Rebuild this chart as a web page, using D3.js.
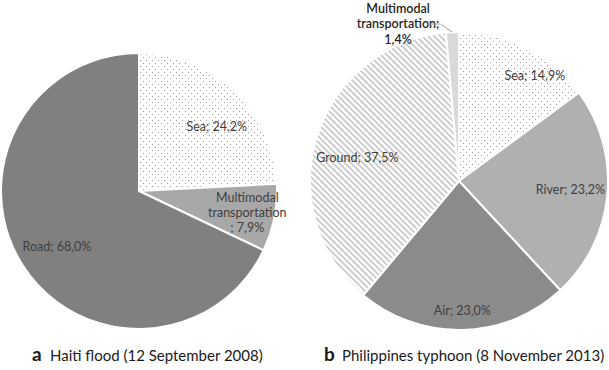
<!DOCTYPE html>
<html lang="en">
<head>
  <meta charset="UTF-8">
  <title>transport modes pies</title>
  <style>
    * {
      padding: 0;
      margin: 0;
    }
    body {
      background: #fff;
    }
    text {
      font-family: Lato, "Liberation Sans", sans-serif;
    }
  </style>
</head>
<body>
  <script src="https://d3js.org/d3.v7.min.js"></script>
  <script>
    const width = 609;
    const height = 370;

    // panel a - Haiti
    const haitiModes = ['Sea', 'Multimodal transportation', 'Road'];
    const haitiShares = [24.2, 7.9, 68.0];

    // panel b - Philippines
    const philModes = ['Sea', 'River', 'Air', 'Ground', 'Multimodal transportation'];
    const philShares = [14.9, 23.2, 23.0, 37.5, 1.4];

    const panelLetters = ['a', 'b'];
    const panelTitles = ['Haiti flood (12 September 2008)', 'Philippines typhoon (8 November 2013)'];

    const svg = d3.select('body')
      .append('svg')
      .attr('width', width)
      .attr('height', height);

    const defs = svg.append('defs');

    const dots = defs.append('pattern')
      .attr('id', 'dots')
      .attr('patternUnits', 'userSpaceOnUse')
      .attr('width', 6)
      .attr('height', 6);
    dots.append('rect').attr('width', 6).attr('height', 6).attr('fill', '#fff');
    dots.append('rect').attr('x', 1).attr('y', 1).attr('width', 1).attr('height', 1).attr('fill', '#9a9a9a');
    dots.append('rect').attr('x', 4).attr('y', 4).attr('width', 1).attr('height', 1).attr('fill', '#9a9a9a');

    const stripes = defs.append('pattern')
      .attr('id', 'stripes')
      .attr('patternUnits', 'userSpaceOnUse')
      .attr('width', 6)
      .attr('height', 6);
    stripes.append('rect').attr('width', 6).attr('height', 6).attr('fill', '#fff');
    stripes.append('path')
      .attr('d', 'M0,0L6,6M-3,3L3,9M3,-3L9,3')
      .attr('stroke', '#cacaca')
      .attr('stroke-width', 1.7);

    const fills = {
      'Sea': 'url(#dots)',
      'Road': '#808080',
      'River': '#b0b0b0',
      'Air': '#8b8b8b',
      'Ground': 'url(#stripes)',
      'Multimodal transportation': '#a8a8a8'
    };

    const fmt = v => d3.format('.1f')(v).replace('.', ',');

    // label placement: radius fraction + angle shift (deg)
    const haitiPlace = { 'Sea': [0.73, 7], 'Multimodal transportation': [0.8, 0], 'Road': [0.72, -2] };
    const philPlace = { 'Sea': [0.87, 9], 'River': [0.75, -1], 'Air': [0.87, 0], 'Ground': [0.70, -4.5], 'Multimodal transportation': [1.13, -18.7] };

    const haitiLines = (m, v) => m === 'Multimodal transportation'
      ? ['Multimodal', 'transportation', '; ' + fmt(v) + '%']
      : [m + '; ' + fmt(v) + '%'];
    const philLines = (m, v) => m === 'Multimodal transportation'
      ? ['Multimodal', 'transportation;', fmt(v) + '%']
      : [m + '; ' + fmt(v) + '%'];

    const drawPie = (cx, cy, r, modes, shares, place, lines, mmFill, leader) => {
      const rows = modes.map((m, i) => ({ m, v: shares[i] }));
      const pie = d3.pie().sort(null).value(d => d.v);
      const arc = d3.arc().innerRadius(0).outerRadius(r);
      const g = svg.append('g').attr('transform', `translate(${cx},${cy})`);

      const arcs = pie(rows);
      g.selectAll('path.slice')
        .data(arcs)
        .join('path')
        .attr('class', 'slice')
        .attr('d', arc)
        .attr('fill', d => d.data.m === 'Multimodal transportation' ? mmFill : fills[d.data.m])
        .attr('stroke', '#fff')
        .attr('stroke-width', 2)
        .attr('stroke-linejoin', 'round');

      arcs.forEach(d => {
        const p = place[d.data.m];
        const a = (d.startAngle + d.endAngle) / 2 + p[1] * Math.PI / 180;
        const x = Math.sin(a) * r * p[0];
        const y = -Math.cos(a) * r * p[0];
        const ls = lines(d.data.m, d.data.v);
        const outside = p[0] > 1;
        const t = g.append('text')
          .attr('text-anchor', 'middle')
          .attr('font-size', 12.5)
          .attr('font-weight', outside ? 600 : 400)
          .attr('fill', outside ? '#262626' : '#404040');
        ls.forEach((s, k) => {
          t.append('tspan')
            .attr('x', x)
            .attr('y', y + (k - (ls.length - 1) / 2) * 15.3)
            .attr('dy', '0.35em')
            .text(s);
        });
        if (outside && leader) {
          const ma = (d.startAngle + d.endAngle) / 2;
          const ex = Math.sin(ma) * r;
          const ey = -Math.cos(ma) * r;
          const sx = x + 30;
          const sy = y;
          g.append('path')
            .attr('d', `M${sx},${sy}L${ex - 12},${sy}L${ex},${ey}`)
            .attr('fill', 'none')
            .attr('stroke', '#a6a6a6')
            .attr('stroke-width', 1);
        }
      });
    };

    drawPie(139, 191, 138, haitiModes, haitiShares, haitiPlace, haitiLines, '#a8a8a8', false);
    drawPie(459, 181, 149, philModes, philShares, philPlace, philLines, '#d9d9d9', true);

    // panel captions
    const capX = [32, 324];
    panelLetters.forEach((l, i) => {
      svg.append('text')
        .attr('x', capX[i])
        .attr('y', 361)
        .attr('font-family', '"Liberation Sans", Arial, sans-serif')
        .attr('font-weight', 'bold')
        .attr('font-size', 19)
        .attr('fill', '#1a1a1a')
        .text(l);
      svg.append('text')
        .attr('x', capX[i] + 18)
        .attr('y', 361)
        .attr('font-size', 15)
        .attr('fill', '#1a1a1a')
        .text(panelTitles[i]);
    });
  </script>
</body>
</html>
